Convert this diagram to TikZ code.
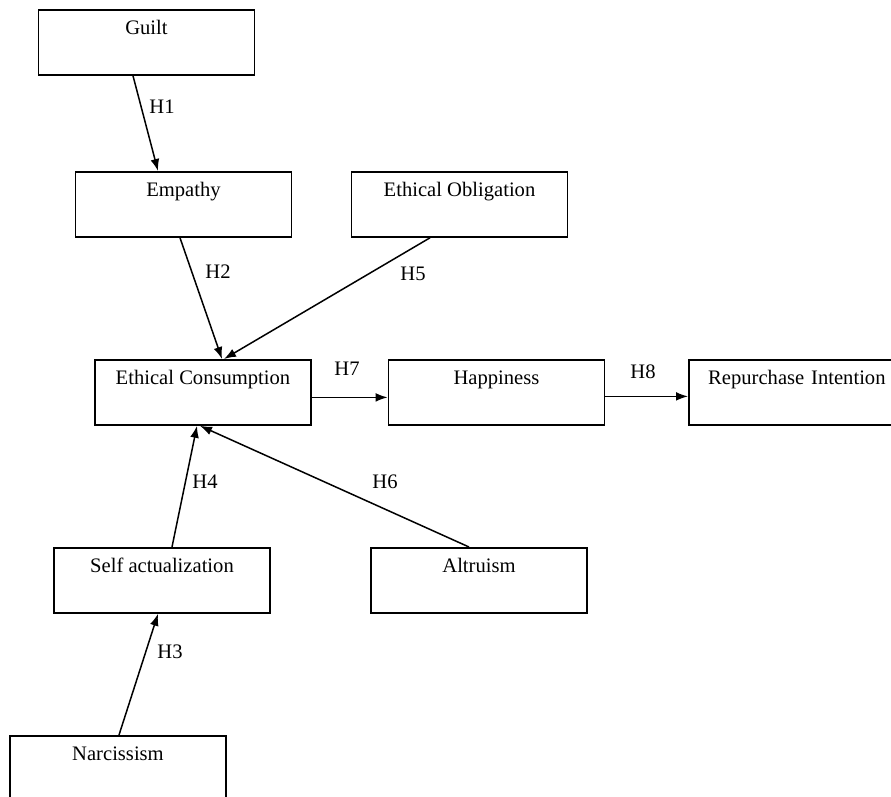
\documentclass[tikz,border=0pt]{standalone}
\usepackage{fontspec}
\setmainfont{Liberation Serif}
\usetikzlibrary{arrows.meta}
\tikzset{
  construct/.style={draw, line width=0.9pt, anchor=north, inner sep=0pt,
    minimum width=108pt, text height=12.5pt, text depth=20pt},
  hyp/.style={draw, line width=0.75pt, -{Latex[length=6pt,width=4.4pt]}},
  hlabel/.style={inner sep=0pt}
}
\begin{document}
\begin{tikzpicture}[x=0.5pt, y=-0.5pt, font=\fontsize{10.3}{12}\selectfont]
  \useasboundingbox (0,0) rectangle (891,797);
  % constructs
  \node[construct] (guilt) at (146.5,9) {Guilt};
  \node[construct] (empathy) at (183.5,171) {Empathy};
  \node[construct] (obligation) at (459.5,171) {Ethical Obligation};
  \node[construct] (consumption) at (203,359) {Ethical Consumption};
  \node[construct] (happiness) at (496.5,359) {Happiness};
  \node[construct, anchor=north west, text width=150pt, align=left]
    (repurchase) at (688,359) {\makebox[108pt]{Repurchase Intention}};
  \node[construct] (selfact) at (162,547) {Self actualization};
  \node[construct] (altruism) at (479,547) {Altruism};
  \node[construct] (narcissism) at (118,735) {Narcissism};
  % hypotheses
  \draw[hyp] ([xshift=-6.75pt]guilt.south) -- ([xshift=-12.75pt]empathy.north);
  \draw[hyp] ([xshift=-1.75pt]empathy.south) -- ([xshift=9.5pt]consumption.north);
  \draw[hyp] ([xshift=-14.75pt]obligation.south) -- ([xshift=10.5pt]consumption.north);
  \draw[hyp] ([yshift=-2.5pt]consumption.east) -- ([yshift=-2.5pt]happiness.west);
  \draw[hyp] ([yshift=-2pt]happiness.east) -- ([yshift=-2pt]repurchase.west);
  \draw[hyp] ([xshift=5pt]selfact.north) -- ([xshift=-3pt]consumption.south);
  \draw[hyp] ([xshift=-5pt]altruism.north) -- ([xshift=-1.5pt]consumption.south);
  \draw[hyp] ([xshift=0.5pt]narcissism.north) -- ([xshift=-2pt]selfact.south);
  % labels
  \node[hlabel] (h1) at (162,107) {H1};
  \node[hlabel] (h2) at (218,272) {H2};
  \node[hlabel] (h5) at (413,274) {H5};
  \node[hlabel] (h7) at (347,369) {H7};
  \node[hlabel] (h8) at (643,372) {H8};
  \node[hlabel] (h4) at (205,482) {H4};
  \node[hlabel] (h6) at (385,482) {H6};
  \node[hlabel] (h3) at (170,652) {H3};
\end{tikzpicture}
\end{document}
